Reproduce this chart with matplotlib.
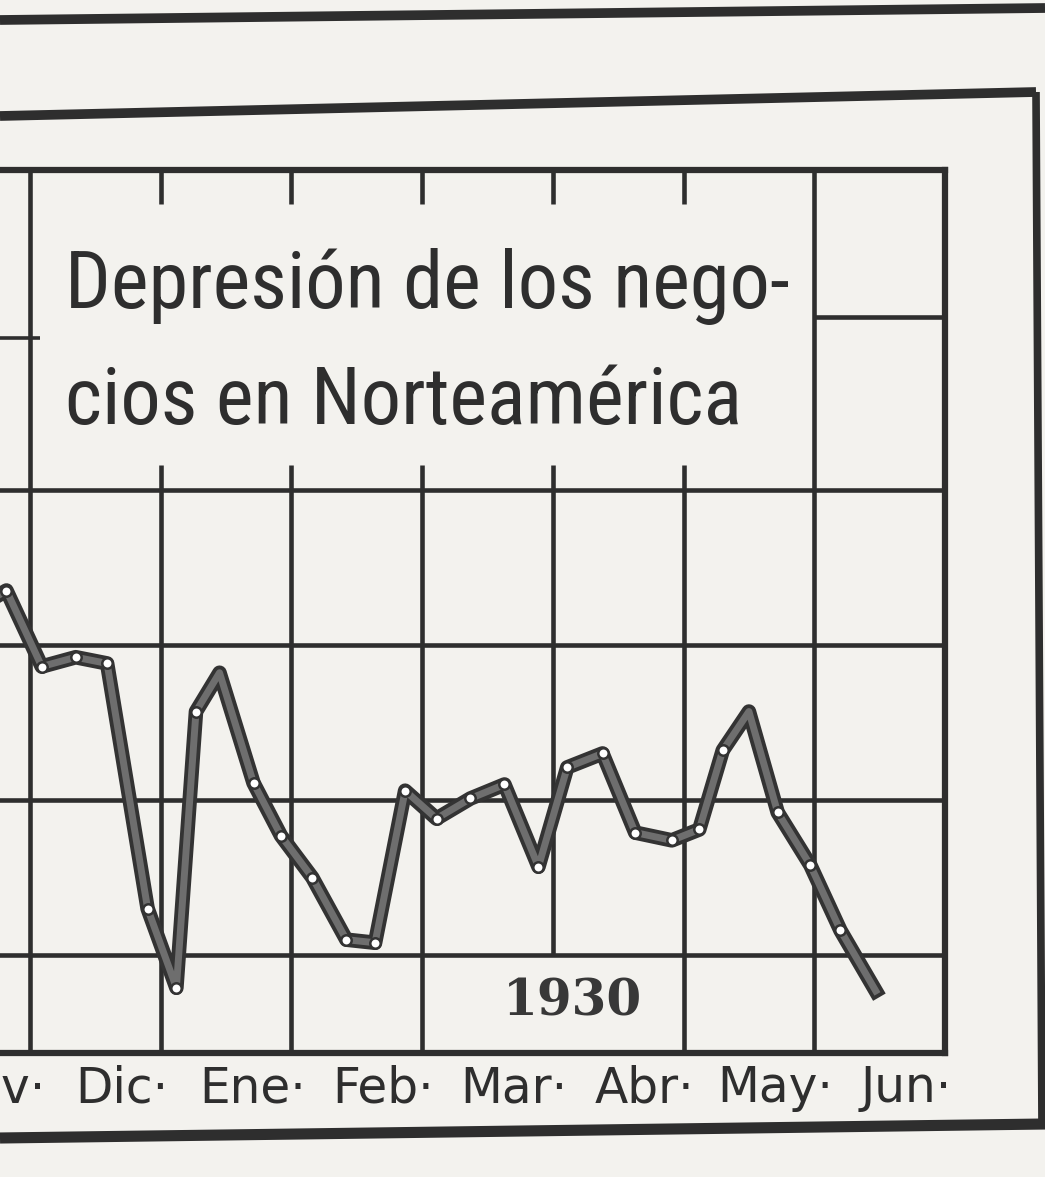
import numpy as np
import matplotlib
matplotlib.use('Agg')
import matplotlib.pyplot as plt
from matplotlib import font_manager as fm
from matplotlib.lines import Line2D

# weekly business index
# x = month position (0 = start of Dic), y = index (grid rows)
months = ["Nov·", "Dic·", "Ene·", "Feb·", "Mar·", "Abr·", "May·", "Jun·"]
week_pos = [-0.30, -0.18, 0.09, 0.35, 0.59, 0.90, 1.12, 1.27, 1.45, 1.71,
            1.92, 2.16, 2.42, 2.64, 2.87, 3.11, 3.37, 3.63, 3.89, 4.11,
            4.38, 4.63, 4.91, 5.12, 5.30, 5.50, 5.72, 5.97, 6.20, 6.47]
index_vals = [2.29, 2.35, 1.86, 1.92, 1.88, 0.30, -0.21, 1.57, 1.82, 1.11,
              0.77, 0.50, 0.10, 0.08, 1.06, 0.88, 1.01, 1.10, 0.57, 1.21,
              1.30, 0.79, 0.74, 0.81, 1.32, 1.57, 0.92, 0.58, 0.16, -0.23]
bare_points = [0, 8, 25, 29]  # vertices drawn without the little ring
title_lines = ["Depresión de los nego-", "cios en Norteamérica"]
year_label = "1930"

paper = '#f3f2ee'
ink = '#2e2e2e'

names = {f.name for f in fm.fontManager.ttflist}
title_font = 'DejaVu Sans'
for cand in ['Roboto Condensed', 'Liberation Sans Narrow', 'DejaVu Sans Condensed',
             'Open Sans Condensed']:
    if cand in names:
        title_font = cand
        break

W, H = 1045, 1177
fig = plt.figure(figsize=(W / 100, H / 100), dpi=100, facecolor=paper)
ax = fig.add_axes([-0.0964, 0.1054, 1.0007, 0.7502])
ax.set_xlim(-1, 7)
ax.set_ylim(-0.63, 5.06)
ax.patch.set_alpha(0)

# hand ruled grid
glw = 3.3
ax.hlines([0, 1, 2, 3], -1, 7, color=ink, lw=glw, zorder=1)
ax.vlines([0, 6], -0.63, 5.06, color=ink, lw=glw, zorder=1)
ax.vlines([1, 2, 3, 5], -0.63, 3.16, color=ink, lw=glw, zorder=1)
ax.vlines([4], 0, 3.16, color=ink, lw=glw, zorder=1)
ax.vlines([1, 2, 3, 4, 5], 4.84, 5.06, color=ink, lw=glw, zorder=1)
ax.hlines([4.11], 6, 7, color=ink, lw=glw, zorder=1)
ax.hlines([3.98], -0.5, 0.08, color=ink, lw=2.6, zorder=1)

for side in ['top', 'right', 'bottom']:
    ax.spines[side].set_linewidth(4.5)
    ax.spines[side].set_color(ink)
ax.spines['left'].set_visible(False)

ax.set_yticks([])
ax.set_xticks(np.arange(-1, 7) + 0.70, months)
ax.tick_params(axis='x', length=0, pad=8, labelsize=35, labelcolor=ink)

# the index line: dark band with a grey core and white rings
marked = [i for i in range(len(week_pos)) if i not in bare_points]
ax.plot(week_pos, index_vals, color='#333333', lw=10.5, solid_joinstyle='round',
        solid_capstyle='projecting', zorder=3)
ax.plot(week_pos, index_vals, color='#6e6e6e', lw=5, solid_joinstyle='round',
        zorder=4)
ax.plot(week_pos, index_vals, ls='none', marker='o', markevery=marked, ms=7.5,
        mfc='white', mec='#333333', mew=1.8, zorder=5)

ax.text(4.15, -0.30, year_label, ha='center', va='center', fontsize=36,
        family='DejaVu Serif', weight='bold', color='#383838', zorder=6)

t1 = ax.text(0.268, 4.17, title_lines[0], ha='left', va='baseline', fontsize=40,
             family=title_font, color=ink, zorder=6)
t2 = ax.text(0.268, 3.42, title_lines[1], ha='left', va='baseline', fontsize=40,
             family=title_font, color=ink, zorder=6)
fig.canvas.draw()
rend = fig.canvas.get_renderer()
w1 = t1.get_window_extent(rend).width
fs = 40 * 725 / w1
t1.set_fontsize(fs)
t2.set_fontsize(fs)

# outer newspaper frame
def px_line(xs, ys, lw):
    fig.add_artist(Line2D([x / W for x in xs], [1 - y / H for y in ys],
                          transform=fig.transFigure, color=ink, lw=lw,
                          solid_capstyle='butt'))

px_line([0, 1045], [20, 8], 7)
px_line([0, 1036], [116, 92], 7)
px_line([1036, 1042], [92, 1128], 5.5)
px_line([0, 1045], [1138, 1124], 8)

fig.savefig('out.png', dpi=100, facecolor=paper)
